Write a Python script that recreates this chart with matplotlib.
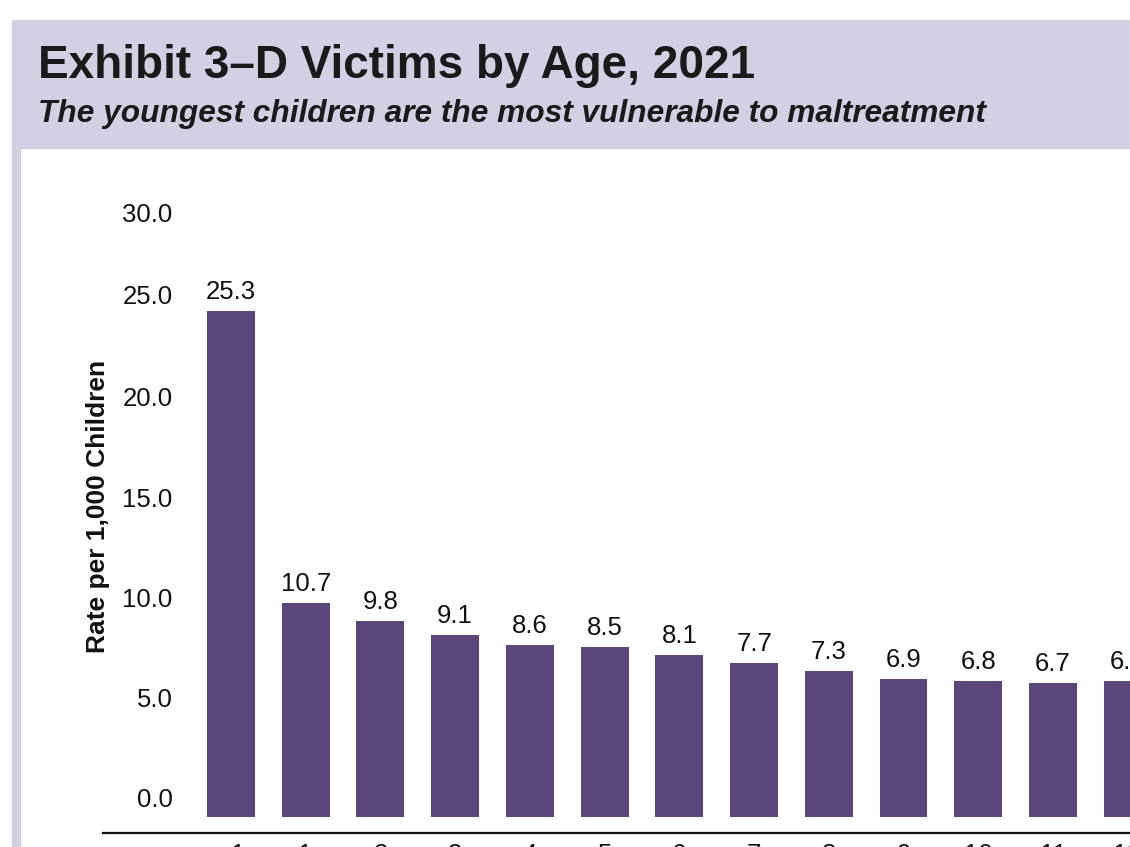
import matplotlib
matplotlib.use("Agg")
import matplotlib.pyplot as plt
import matplotlib.transforms as mtransforms
from matplotlib.patches import Rectangle

# data
ages = ["<1", "1", "2", "3", "4", "5", "6", "7", "8", "9", "10", "11", "12"]
rates = [25.3, 10.7, 9.8, 9.1, 8.6, 8.5, 8.1, 7.7, 7.3, 6.9, 6.8, 6.7, 6.8]
yticks = [0, 5, 10, 15, 20, 25, 30]

title = "Exhibit 3\u2013D Victims by Age, 2021"
subtitle = "The youngest children are the most vulnerable to maltreatment"
ylabel = "Rate per 1,000 Children"

bar_color = "#5b4679"
band_color = "#d3d0e4"

plt.rcParams["font.family"] = ["Liberation Sans", "DejaVu Sans"]

W, H = 1130, 847
fig = plt.figure(figsize=(W / 100, H / 100), dpi=100)

# header band and left strip
fig.patches.append(Rectangle((12 / W, 1 - 148 / H), (W - 12) / W, 128 / H,
                             transform=fig.transFigure, color=band_color, zorder=0))
fig.patches.append(Rectangle((12 / W, 0), 8 / W, (H - 148) / H,
                             transform=fig.transFigure, color=band_color, zorder=0))

fig.text(38 / W, 1 - 78 / H, title, fontsize=33, fontweight="bold",
         color="#1a1a1a", va="baseline", ha="left")
fig.text(38 / W, 1 - 122 / H, subtitle, fontsize=22.8, fontweight="bold",
         fontstyle="italic", color="#1a1a1a", va="baseline", ha="left")

ax = fig.add_axes([103 / W, (H - 833) / H, (W - 103) / W, 636 / H])
x = range(len(ages))
ax.bar(x, rates, width=0.64, color=bar_color)

for i, v in zip(x, rates):
    ax.text(i, v + 0.6, f"{v:.1f}", ha="center", va="baseline", fontsize=18.5,
            color="#111111", clip_on=False)

ax.set_xlim(-1.712, 12.03)
ax.set_ylim(-0.8, 31)

ax.set_yticks(yticks)
ax.set_yticklabels([f"{t:.1f}" for t in yticks])
ax.set_xticks(list(x))
ax.set_xticklabels(ages)
ax.tick_params(axis="y", length=0, pad=-50, labelsize=18.5, labelcolor="#111111")
ax.tick_params(axis="x", length=0, pad=7, labelsize=18.5, labelcolor="#111111")

# tick labels sit a little above their values in the original (pixels)
lift = [20, 20, 20, 20, 21, 22, 5]
for lab, dy in zip(ax.get_yticklabels(), lift):
    shift = mtransforms.ScaledTranslation(0, dy / 100, fig.dpi_scale_trans)
    lab.set_transform(lab.get_transform() + shift)

ax.set_ylabel(ylabel, fontsize=19, fontweight="bold", color="#111111")
ax.yaxis.set_label_coords(0.007, 0.514)

for s in ["top", "right", "left"]:
    ax.spines[s].set_visible(False)
ax.spines["bottom"].set_linewidth(1.6)
ax.spines["bottom"].set_color("#111111")
ax.set_facecolor("none")

fig.savefig("out.png", dpi=100)
